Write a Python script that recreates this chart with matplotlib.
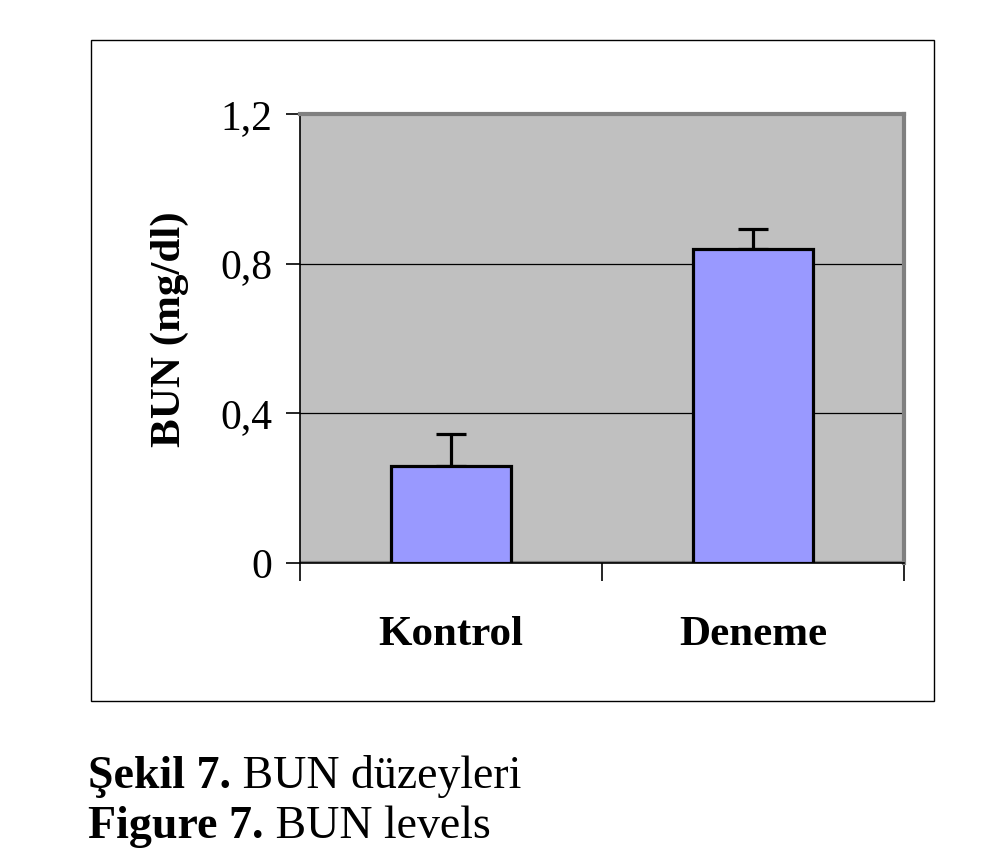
import matplotlib
matplotlib.use("Agg")
import matplotlib.pyplot as plt
from matplotlib.patches import Rectangle

plt.rcParams['font.family'] = ['Liberation Serif', 'DejaVu Serif']

groups = ['Kontrol', 'Deneme']
bun = [0.26, 0.84]
err = [0.085, 0.053]
yticks = [0, 0.4, 0.8, 1.2]
ytick_labels = ['0', '0,4', '0,8', '1,2']

fig = plt.figure(figsize=(9.84, 8.59), dpi=100)
ax = fig.add_axes([300 / 984, 1 - 563 / 859, 604 / 984, 449 / 859])
ax.set_facecolor('#c0c0c0')

x = list(range(len(groups)))
ax.bar(x, bun, width=0.4, color='#9999ff', edgecolor='black', linewidth=2.3, zorder=3)
ax.errorbar(x, bun, yerr=[[0, 0], err], fmt='none', ecolor='black',
            elinewidth=2.3, capsize=10.5, capthick=2.3, zorder=2)

ax.set_xlim(-0.5, 1.5)
ax.set_ylim(0, 1.2)
ax.set_yticks(yticks)
ax.set_yticklabels(ytick_labels, fontsize=30)
ax.yaxis.grid(True, color='black', linewidth=0.9, zorder=1)
ax.set_axisbelow(True)

ax.set_xticks([-0.5, 0.5, 1.5])
ax.set_xticklabels(['', '', ''])
ax.set_xticks(x, minor=True)
ax.set_xticklabels(groups, minor=True, fontsize=31, fontweight='bold')
ax.tick_params(axis='x', which='minor', length=0, pad=38)
ax.tick_params(axis='x', which='major', length=13, width=1.2, direction='out')
ax.tick_params(axis='y', length=10, width=1.2, direction='out', pad=10)

# gray plot border, black axis lines on top
ax.axhline(0, color='#808080', linewidth=3, zorder=0.5)
for s in ['top', 'right']:
    ax.spines[s].set_color('#808080')
    ax.spines[s].set_linewidth(3)
for s in ['left', 'bottom']:
    ax.spines[s].set_color('black')
    ax.spines[s].set_linewidth(1.2)

ax.set_ylabel('BUN (mg/dl)', fontsize=31, fontweight='bold')
ax.yaxis.set_label_coords(-0.183, 0.52)

# outer chart frame
fig.patches.append(Rectangle((91 / 984, 1 - 701 / 859), 843 / 984, 661 / 859,
                             transform=fig.transFigure, fill=False,
                             edgecolor='black', linewidth=1))

# caption
t1 = fig.text(88 / 984, 1 - 788 / 859, 'Şekil 7.', fontsize=33, fontweight='bold')
ax.annotate(' BUN düzeyleri', xy=(1, 0), xycoords=t1, va='bottom', fontsize=33,
            annotation_clip=False)
t2 = fig.text(88 / 984, 1 - 838 / 859, 'Figure 7.', fontsize=33, fontweight='bold')
ax.annotate(' BUN levels', xy=(1, 0), xycoords=t2, va='bottom', fontsize=33,
            annotation_clip=False)

fig.savefig('out.png', dpi=100)
